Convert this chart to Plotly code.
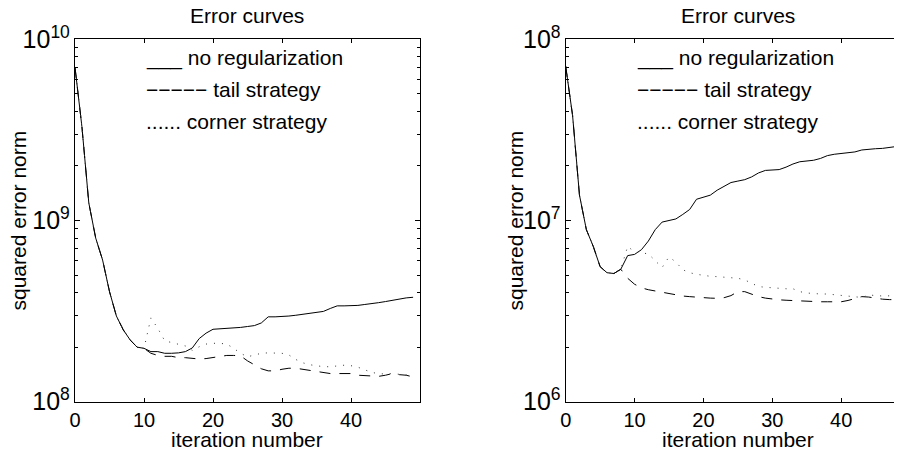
import plotly.graph_objects as go

W, H = 902, 452
OFF = 8  # the page body adds an 8px margin at the top-left

iterations = list(range(50))

# Left panel (values)
left_noreg = [7.0e9, 3.3e9, 1.25e9, 8.0e8, 6.05e8, 4.05e8, 2.97e8, 2.49e8, 2.19e8, 2.0e8,
              1.97e8, 1.89e8, 1.89e8, 1.85e8, 1.85e8, 1.86e8, 1.89e8, 1.98e8, 2.23e8, 2.39e8,
              2.51e8, 2.52e8, 2.53e8, 2.54e8, 2.57e8, 2.6e8, 2.63e8, 2.72e8, 2.94e8, 2.94e8,
              2.95e8, 2.97e8, 3.0e8, 3.03e8, 3.07e8, 3.09e8, 3.15e8, 3.27e8, 3.38e8, 3.38e8,
              3.38e8, 3.40e8, 3.44e8, 3.47e8, 3.52e8, 3.57e8, 3.63e8, 3.69e8, 3.74e8, 3.77e8]
left_tail = left_noreg[:11] + [
              1.85e8, 1.80e8, 1.78e8, 1.78e8, 1.75e8, 1.75e8, 1.73e8, 1.72e8, 1.73e8,
              1.75e8, 1.78e8, 1.80e8, 1.80e8, 1.79e8, 1.68e8, 1.60e8, 1.52e8, 1.48e8, 1.48e8,
              1.51e8, 1.53e8, 1.53e8, 1.51e8, 1.49e8, 1.47e8, 1.45e8, 1.43e8, 1.43e8, 1.43e8,
              1.43e8, 1.40e8, 1.39e8, 1.38e8, 1.38e8, 1.40e8, 1.43e8, 1.41e8, 1.40e8, 1.37e8]
left_corner = left_noreg[:11] + [
              2.9e8, 2.54e8, 2.17e8, 2.12e8, 2.08e8, 2.03e8, 1.92e8, 2.01e8, 2.08e8,
              2.1e8, 2.1e8, 2.08e8, 1.97e8, 1.85e8, 1.77e8, 1.81e8, 1.85e8, 1.86e8, 1.86e8,
              1.85e8, 1.81e8, 1.71e8, 1.64e8, 1.60e8, 1.58e8, 1.56e8, 1.56e8, 1.58e8, 1.59e8,
              1.58e8, 1.55e8, 1.50e8, 1.45e8, 1.43e8, 1.42e8, 1.43e8, 1.42e8, 1.41e8, 1.39e8]

# Right panel (values)
right_noreg = [7.1e7, 3.8e7, 1.38e7, 8.9e6, 7.2e6, 5.56e6, 5.15e6, 5.1e6, 5.38e6, 6.4e6,
               6.5e6, 6.9e6, 7.7e6, 8.9e6, 9.8e6, 1.0e7, 1.02e7, 1.08e7, 1.15e7, 1.31e7,
               1.34e7, 1.38e7, 1.47e7, 1.55e7, 1.62e7, 1.65e7, 1.68e7, 1.74e7, 1.83e7, 1.89e7,
               1.9e7, 1.91e7, 1.97e7, 2.05e7, 2.11e7, 2.13e7, 2.15e7, 2.2e7, 2.28e7, 2.32e7,
               2.34e7, 2.35e7, 2.39e7, 2.45e7, 2.48e7, 2.49e7, 2.5e7, 2.52e7, 2.56e7, 2.6e7]
right_tail = right_noreg[:9] + [
               4.8e6, 4.45e6, 4.25e6, 4.15e6, 4.08e6, 4.02e6, 3.97e6, 3.9e6, 3.83e6, 3.8e6,
               3.77e6, 3.75e6, 3.73e6, 3.72e6, 3.75e6, 3.85e6, 4.05e6, 4.05e6, 3.92e6, 3.8e6,
               3.73e6, 3.68e6, 3.65e6, 3.63e6, 3.61e6, 3.6e6, 3.58e6, 3.57e6, 3.56e6, 3.56e6,
               3.56e6, 3.56e6, 3.62e6, 3.72e6, 3.8e6, 3.78e6, 3.72e6, 3.68e6, 3.66e6, 3.65e6,
               3.65e6]
right_corner = right_noreg[:9] + [
               7.2e6, 6.7e6, 6.65e6, 6.55e6, 6.0e6, 5.5e6, 6.3e6, 5.9e6, 5.35e6, 5.15e6,
               5.05e6, 4.98e6, 4.92e6, 4.9e6, 4.88e6, 4.86e6, 4.8e6, 4.7e6, 4.5e6, 4.32e6,
               4.28e6, 4.24e6, 4.22e6, 4.2e6, 4.2e6, 4.05e6, 3.98e6, 3.94e6, 3.93e6, 3.93e6,
               3.9e6, 3.86e6, 3.84e6, 3.8e6, 3.76e6, 3.88e6, 3.85e6, 3.83e6, 3.84e6, 3.84e6,
               3.84e6]

x_ticks = [0, 10, 20, 30, 40]
title_text = "Error curves"
xlabel_text = "iteration number"
ylabel_text = "squared error norm"
legend_lines = ["___ no regularization", "\u2212\u2212\u2212\u2212\u2212 tail strategy", "...... corner strategy"]

FONT = "Liberation Sans, Arial, Helvetica, sans-serif"

fig = go.Figure()

def add_panel(xa, ya, noreg, tail, corner):
    fig.add_trace(go.Scatter(x=iterations, y=noreg, mode="lines", xaxis=xa, yaxis=ya,
                             line=dict(color="black", width=1)))
    fig.add_trace(go.Scatter(x=iterations, y=tail, mode="lines", xaxis=xa, yaxis=ya,
                             line=dict(color="black", width=1, dash="11px,9px")))
    fig.add_trace(go.Scatter(x=iterations, y=corner, mode="lines", xaxis=xa, yaxis=ya,
                             line=dict(color="#333333", width=1, dash="1px,7px")))

add_panel("x", "y", left_noreg, left_tail, left_corner)
add_panel("x2", "y2", right_noreg, right_tail, right_corner)

def px(v):
    return (v - OFF) / W

def py(v):
    return 1 - (v - OFF) / H

ytop, ybot = 39.3, 401.7
ydom = [py(ybot), py(ytop)]
L0, L1 = 75.0, 420.0
R0 = 565.7

xcommon = dict(tickvals=x_ticks, ticks="inside", ticklen=4, tickwidth=1, tickcolor="black",
               showline=True, linecolor="black", linewidth=1.3, showgrid=False, zeroline=False,
               automargin=False,
               tickfont=dict(family=FONT, size=20, color="black"))
ycommon = dict(type="log", dtick=1, exponentformat="power", ticks="inside", ticklen=5,
               tickwidth=1, tickcolor="black", showline=True, linecolor="black", linewidth=1.3,
               showgrid=False, zeroline=False, automargin=False,
               tickfont=dict(family=FONT, size=20, color="black"),
               minor=dict(ticks="inside", ticklen=3, tickwidth=1, tickcolor="black", dtick="D1",
                          showgrid=False))

fig.update_layout(
    width=W, height=H, margin=dict(l=0, r=0, t=0, b=0, autoexpand=False),
    paper_bgcolor="white", plot_bgcolor="white", showlegend=False,
    xaxis=dict(domain=[px(L0), px(L1)], range=[0, 50], anchor="y", mirror="allticks", **xcommon),
    yaxis=dict(domain=ydom, range=[8, 10], anchor="x", mirror="allticks", **ycommon),
    xaxis2=dict(domain=[px(R0), 1.0], range=[0, 50], anchor="y2", mirror="allticks", **xcommon),
    yaxis2=dict(domain=ydom, range=[6, 8], anchor="x2", mirror="allticks", **ycommon),
)

anns = []
def ann(x, y, text, size=21, xanchor="center", yanchor="middle", angle=0):
    anns.append(dict(x=px(x), y=py(y), xref="paper", yref="paper", text=text,
                     showarrow=False, xanchor=xanchor, yanchor=yanchor, textangle=angle,
                     font=dict(family=FONT, size=size, color="black")))

for cx, lx, yx in [(247.5, 144, 18), (738.2, 635, 515)]:
    ann(cx, 15.5, title_text)
    ann(cx, 439.5, xlabel_text)
    ann(yx, 220.5, ylabel_text, angle=-90)
    for k, t in enumerate(legend_lines):
        ann(lx, 57.7 + 31.7 * k, t, xanchor="left")

fig.update_layout(annotations=anns)
fig.write_html("out.html")
